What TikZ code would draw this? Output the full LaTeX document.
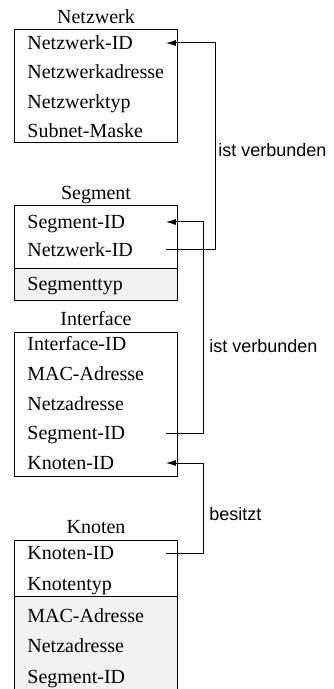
\documentclass[tikz,border=0pt]{standalone}
\usepackage{fontspec}
\setmainfont{Liberation Serif}
\setsansfont{Liberation Sans}
\usepackage{xcolor}
\definecolor{keygray}{RGB}{242,242,242}
\usepackage{tikz}
\usetikzlibrary{arrows.meta, positioning}

\begin{document}
\begin{tikzpicture}[x=0.5pt, y=-0.5pt,
    every node/.style={font=\fontsize{10}{12}\selectfont},
    title/.style={inner sep=0pt},
    attr/.style={anchor=west, inner sep=0pt, text width=69pt,
                 text height=1.5ex, text depth=0pt},
    rel/.style={anchor=west, inner sep=0pt, font=\sffamily\fontsize{9}{11}\selectfont},
    conn/.style={-{Latex[length=5pt, width=3pt]}, line width=0.5pt},
    box/.style={draw, line width=0.5pt}]
  \useasboundingbox (0,0) rectangle (333,689);

  % Netzwerk
  \draw[box] (14,30) rectangle (177,143);
  \node[title] (nw) at (96,17) {Netzwerk};
  \node[attr] (nw1) at (27,43)  {Netzwerk-ID};
  \node[attr] (nw2) at (27,72)  {Netzwerkadresse};
  \node[attr] (nw3) at (27,102) {Netzwerktyp};
  \node[attr] (nw4) at (27,131) {Subnet-Maske};

  % Segment
  \fill[keygray] (14,269) rectangle (177,300);
  \draw[box] (14,206) rectangle (177,300);
  \draw[box] (14,269) -- (177,269);
  \node[title] (sg) at (96,195) {Segment};
  \node[attr] (sg1) at (27,222) {Segment-ID};
  \node[attr] (sg2) at (27,250) {Netzwerk-ID};
  \node[attr] (sg3) at (27,284) {Segmenttyp};

  % Interface
  \draw[box] (14,332) rectangle (177,476);
  \node[title] (if) at (96,319) {Interface};
  \node[attr] (if1) at (27,344) {Interface-ID};
  \node[attr] (if2) at (27,374) {MAC-Adresse};
  \node[attr] (if3) at (27,404) {Netzadresse};
  \node[attr] (if4) at (27,433) {Segment-ID};
  \node[attr] (if5) at (27,463) {Knoten-ID};

  % Knoten
  \fill[keygray] (14,596) rectangle (177,692);
  \draw[box] (14,692) -- (14,540) -- (177,540) -- (177,692);
  \draw[box] (14,596) -- (177,596);
  \node[title] (kn) at (96,527) {Knoten};
  \node[attr] (kn1) at (27,553) {Knoten-ID};
  \node[attr] (kn2) at (27,584) {Knotentyp};
  \node[attr] (kn3) at (27,616) {MAC-Adresse};
  \node[attr] (kn4) at (27,646) {Netzadresse};
  \node[attr] (kn5) at (27,677) {Segment-ID};

  % Beziehungen
  \draw[conn] (sg2.east) -- ++(50,0) |- (nw1.east);
  \node[rel] (r1) at (218,150) {ist verbunden};
  \draw[conn] (if4.east) -- ++(38,0) |- (sg1.east);
  \node[rel] (r2) at (209,346) {ist verbunden};
  \draw[conn] (kn1.east) -- ++(38,0) |- (if5.east);
  \node[rel] (r3) at (209,514) {besitzt};
\end{tikzpicture}
\end{document}
